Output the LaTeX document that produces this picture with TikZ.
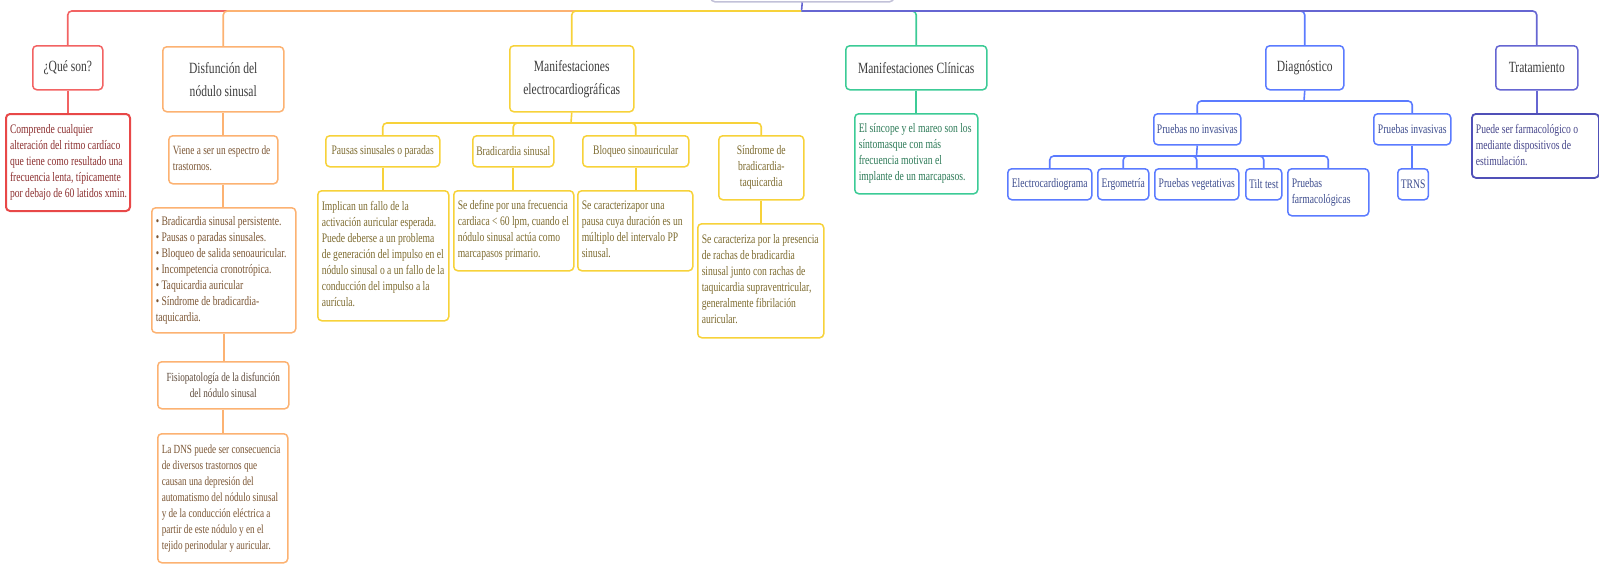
\documentclass[tikz,border=0pt]{standalone}
\usepackage{fontspec}
\setmainfont{Liberation Serif}[FakeStretch=0.74]
\newcommand{\mmtab}[2]{\makebox[#1pt][l]{\begin{tabular}{@{}l@{}}#2\end{tabular}}}
\definecolor{cRed}{HTML}{F26363}
\definecolor{cRedD}{HTML}{E84848}
\definecolor{tRed}{HTML}{8B2E2E}
\definecolor{cOra}{HTML}{FCB272}
\definecolor{tOra}{HTML}{7B5533}
\definecolor{tOra2}{HTML}{5E4A3A}
\definecolor{cYel}{HTML}{F7D23A}
\definecolor{tYel}{HTML}{7D6B2F}
\definecolor{cGrn}{HTML}{3CCB96}
\definecolor{tGrn}{HTML}{2C7A57}
\definecolor{cBlu}{HTML}{5B7BFF}
\definecolor{tBlu}{HTML}{3D4C8E}
\definecolor{cPur}{HTML}{6666D2}
\definecolor{cPurD}{HTML}{5050B8}
\definecolor{tPur}{HTML}{45458A}
\definecolor{ttxt}{HTML}{3C3C3C}
\definecolor{cRoot}{HTML}{C2C1D8}
\tikzset{
  bx/.style={draw, rounded corners=4pt, line width=1.5pt, fill=white, anchor=north west, inner sep=3pt},
  ttl/.style={bx, align=center, font=\fontsize{15.6}{23}\selectfont, text=ttxt},
  bod/.style={bx, inner xsep=4pt, font=\fontsize{13}{16}\selectfont},
  lbl/.style={bx, align=center, font=\fontsize{13}{16}\selectfont},
  ln/.style={line width=1.6pt, draw=#1},
  rln/.style={line width=1.6pt, draw=#1, rounded corners=4pt}
}
\begin{document}
\begin{tikzpicture}[x=1pt,y=-1pt]
\useasboundingbox (0,0) rectangle (1599,565);
\clip (0,0) rectangle (1599,565);
% hubs
\coordinate (hub) at (801.5,11);
\coordinate (ehub) at (571,123);
\coordinate (dhub) at (1304,101);
\coordinate (nhub) at (1196.5,156);

% root (cut off at top)
\node[bx, draw=cRoot, minimum width=183pt, minimum height=40pt] (root) at (710,-39) {};

% ---- titles
\node[ttl, draw=cRed, minimum width=70pt, minimum height=44pt] (qs) at (32,45) {¿Qué son?};
\node[ttl, draw=cOra, minimum width=121pt, minimum height=65pt] (disf) at (162,46) {Disfunción del\\nódulo sinusal};
\node[ttl, draw=cYel, minimum width=124pt, minimum height=66pt] (mecg) at (509,45) {Manifestaciones\\electrocardiográficas};
\node[ttl, draw=cGrn, minimum width=141pt, minimum height=44pt] (mclin) at (845,45) {Manifestaciones Clínicas};
\node[ttl, draw=cBlu, minimum width=78pt, minimum height=44pt] (diag) at (1265,45) {Diagnóstico};
\node[ttl, draw=cPur, minimum width=82pt, minimum height=44pt] (trat) at (1495,45) {Tratamiento};

% ---- connectors from root
\draw[ln=cPur] (root.south) -- (hub);
\draw[rln=cRed] (hub) -| (qs.north);
\draw[rln=cOra] (hub) -| (disf.north);
\draw[rln=cYel] (hub) -| (mecg.north);
\draw[rln=cGrn] (hub) -| (mclin.north);
\draw[rln=cBlu] (hub) -| (diag.north);
\draw[rln=cPur] (hub) -| (trat.north);

% ---- red branch
\node[bod, draw=cRedD, line width=2pt, text=tRed, minimum width=124pt, minimum height=97pt] (comp) at (5,113)
 {\mmtab{116}{Comprende cualquier\\alteración del ritmo cardíaco\\que tiene como resultado una\\frecuencia lenta, típicamente\\por debajo de 60 latidos xmin.}};
\draw[ln=cRed] (qs.south) -- (qs.south |- comp.north);

% ---- orange branch
\node[bod, draw=cOra, text=tOra, font=\fontsize{12.6}{16}\selectfont, minimum width=109pt, minimum height=48pt] (viene) at (168,135)
 {\mmtab{101}{Viene a ser un espectro de\\trastornos.}};
\node[bod, draw=cOra, text=tOra, minimum width=144pt, minimum height=125pt] (bul) at (151,207)
 {\mmtab{136}{• Bradicardia sinusal persistente.\\• Pausas o paradas sinusales.\\• Bloqueo de salida senoauricular.\\• Incompetencia cronotrópica.\\• Taquicardia auricular\\• Síndrome de bradicardia-\\taquicardia.}};
\node[lbl, draw=cOra, text=tOra2, font=\fontsize{12.4}{16}\selectfont, minimum width=131pt, minimum height=47pt] (fisio) at (157,361)
 {Fisiopatología de la disfunción\\del nódulo sinusal};
\node[bod, draw=cOra, text=tOra, font=\fontsize{12.4}{16}\selectfont, minimum width=130pt, minimum height=129pt] (dns) at (157,433)
 {\mmtab{122}{La DNS puede ser consecuencia\\de diversos trastornos que\\causan una depresión del\\automatismo del nódulo sinusal\\y de la conducción eléctrica a\\partir de este nódulo y en el\\tejido perinodular y auricular.}};
\draw[ln=cOra] (disf.south) -- (disf.south |- viene.north);
\draw[ln=cOra] (viene.south) -- (viene.south |- bul.north);
\draw[ln=cOra] (bul.south) -- (bul.south |- fisio.north);
\draw[ln=cOra] (fisio.south) -- (fisio.south |- dns.north);

% ---- yellow branch
\node[lbl, draw=cYel, text=tYel, minimum width=114pt, minimum height=31pt] (pau) at (325,135) {Pausas sinusales o paradas};
\node[lbl, draw=cYel, text=tYel, minimum width=81pt, minimum height=31pt] (brad) at (472,135) {Bradicardia sinusal};
\node[lbl, draw=cYel, text=tYel, minimum width=106pt, minimum height=31pt] (bloq) at (582,135) {Bloqueo sinoauricular};
\node[lbl, draw=cYel, text=tYel, minimum width=85pt, minimum height=64pt] (sind) at (718,135) {Síndrome de\\bradicardia-\\taquicardia};
\node[bod, draw=cYel, text=tYel, minimum width=131pt, minimum height=130pt] (impl) at (317,190)
 {\mmtab{123}{Implican un fallo de la\\activación auricular esperada.\\Puede deberse a un problema\\de generación del impulso en el\\nódulo sinusal o a un fallo de la\\conducción del impulso a la\\aurícula.}};
\node[bod, draw=cYel, text=tYel, minimum width=120pt, minimum height=80pt] (sdef) at (453,190)
 {\mmtab{112}{Se define por una frecuencia\\cardiaca < 60 lpm, cuando el\\nódulo sinusal actúa como\\marcapasos primario.}};
\node[bod, draw=cYel, text=tYel, minimum width=115pt, minimum height=80pt] (scar) at (577,190)
 {\mmtab{107}{Se caracterizapor una\\pausa cuya duración es un\\múltiplo del intervalo PP\\sinusal.}};
\node[bod, draw=cYel, text=tYel, minimum width=126pt, minimum height=114pt] (stxt) at (697,223)
 {\mmtab{118}{Se caracteriza por la presencia\\de rachas de bradicardia\\sinusal junto con rachas de\\taquicardia supraventricular,\\generalmente fibrilación\\auricular.}};
\draw[ln=cYel] (mecg.south) -- (ehub);
\draw[rln=cYel] (ehub) -| (pau.north);
\draw[rln=cYel] (ehub) -| (brad.north);
\draw[rln=cYel] (ehub) -| (bloq.north);
\draw[rln=cYel] (ehub) -| (sind.north);
\draw[ln=cYel] (pau.south) -- (pau.south |- impl.north);
\draw[ln=cYel] (brad.south) -- (brad.south |- sdef.north);
\draw[ln=cYel] (bloq.south) -- (bloq.south |- scar.north);
\draw[ln=cYel] (sind.south) -- (sind.south |- stxt.north);

% ---- green branch
\node[bod, draw=cGrn, text=tGrn, minimum width=123pt, minimum height=80pt] (sinc) at (854,113)
 {\mmtab{115}{El síncope y el mareo son los\\síntomasque con más\\frecuencia motivan el\\implante de un marcapasos.}};
\draw[ln=cGrn] (mclin.south) -- (mclin.south |- sinc.north);

% ---- blue branch
\node[lbl, draw=cBlu, text=tBlu, minimum width=87pt, minimum height=31pt] (pni) at (1153,113) {Pruebas no invasivas};
\node[lbl, draw=cBlu, text=tBlu, minimum width=77pt, minimum height=31pt] (pinv) at (1373,113) {Pruebas invasivas};
\node[lbl, draw=cBlu, text=tBlu, minimum width=84pt, minimum height=31pt] (ecg) at (1007,168) {Electrocardiograma};
\node[lbl, draw=cBlu, text=tBlu, minimum width=51pt, minimum height=31pt] (ergo) at (1097,168) {Ergometría};
\node[lbl, draw=cBlu, text=tBlu, minimum width=84pt, minimum height=31pt] (veg) at (1154,168) {Pruebas vegetativas};
\node[lbl, draw=cBlu, text=tBlu, minimum width=36pt, minimum height=31pt] (tilt) at (1245,168) {Tilt test};
\node[bod, draw=cBlu, text=tBlu, minimum width=81pt, minimum height=47pt] (farm) at (1287,168) {\mmtab{73}{Pruebas\\farmacológicas}};
\node[lbl, draw=cBlu, text=tBlu, minimum width=29pt, minimum height=31pt] (trns) at (1397,168) {TRNS};
\draw[ln=cBlu] (diag.south) -- (dhub);
\draw[rln=cBlu] (dhub) -| (pni.north);
\draw[rln=cBlu] (dhub) -| (pinv.north);
\draw[ln=cBlu] (pni.south) -- (nhub);
\draw[rln=cBlu] (nhub) -| (ecg.north);
\draw[rln=cBlu] (nhub) -| (ergo.north);
\draw[rln=cBlu] (nhub) -| (veg.north);
\draw[rln=cBlu] (nhub) -| (tilt.north);
\draw[rln=cBlu] (nhub) -| (farm.north);
\draw[ln=cBlu] (pinv.south) -- (pinv.south |- trns.north);

% ---- purple branch
\node[bod, draw=cPurD, line width=1.8pt, text=tPur, minimum width=127pt, minimum height=64pt] (pue) at (1471,113)
 {\mmtab{119}{Puede ser farmacológico o\\mediante dispositivos de\\estimulación.}};
\draw[ln=cPur] (trat.south) -- (trat.south |- pue.north);
\end{tikzpicture}
\end{document}
